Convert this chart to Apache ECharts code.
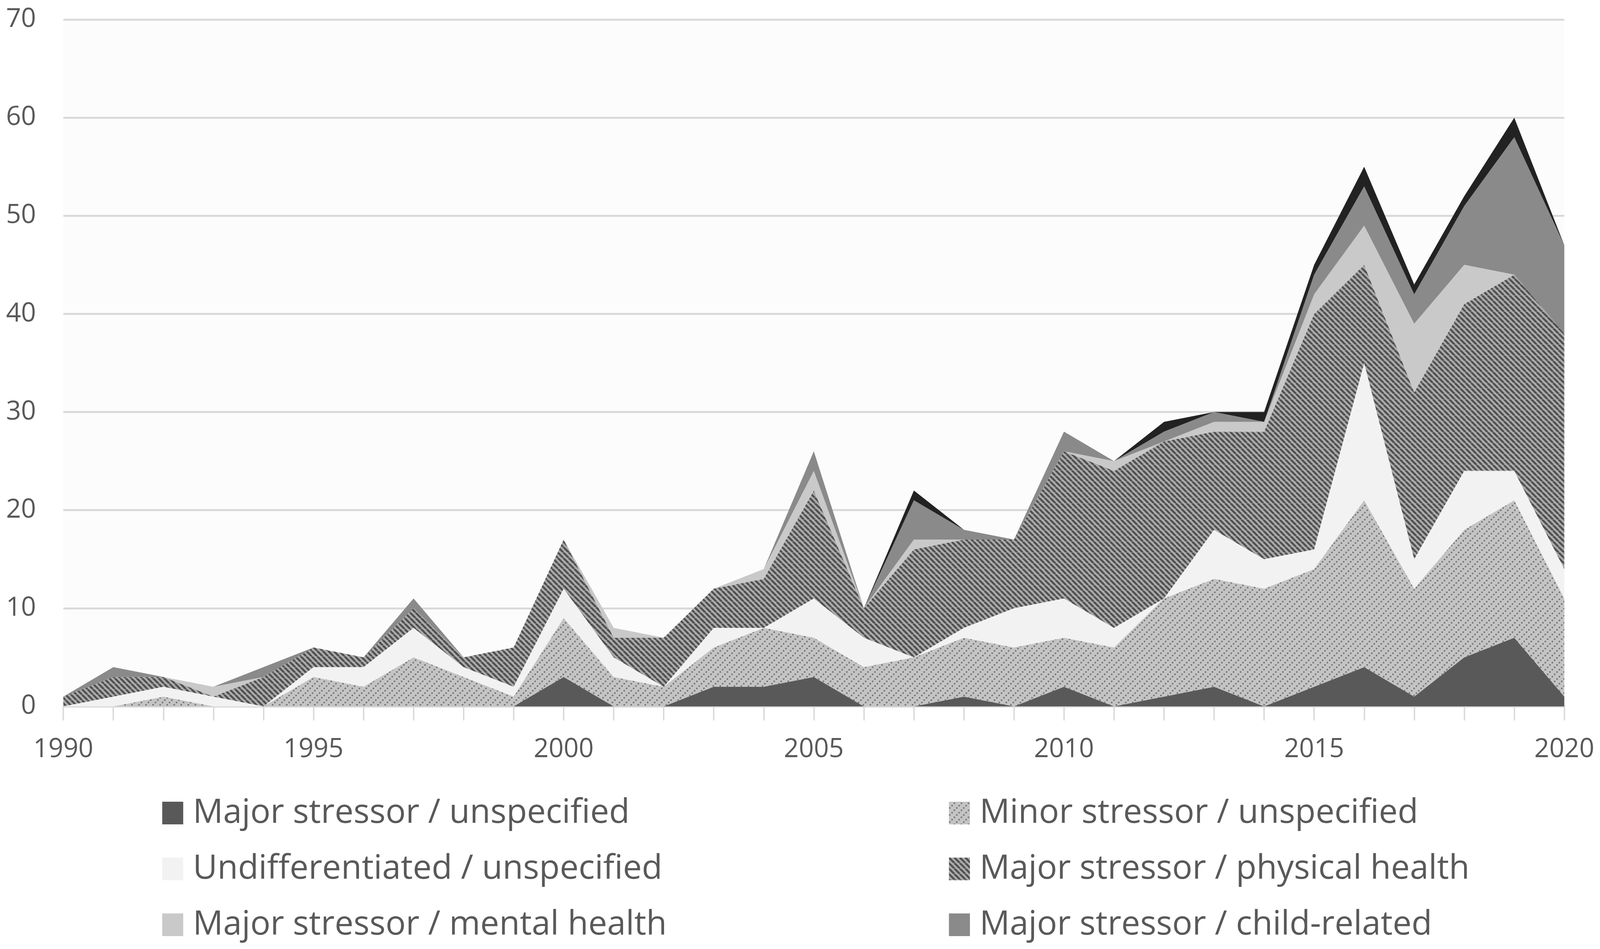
<!DOCTYPE html>
<html lang="en">
<head>
    <meta charset="UTF-8">
    <title>stressor types by year</title>
    <style>
        html,
        body {
            margin: 0;
            padding: 0;
            width: 100%;
            height: 100%;
            overflow: hidden;
            background: #ffffff;
        }

        #canvas {
            width: 100vw;
            height: 100vh;
        }
    </style>
</head>
<body>
<div id="canvas"></div>
</body>
<script src="https://cdn.jsdelivr.net/npm/echarts@6/dist/echarts.min.js"></script>
<script>

    const years = []
    for (let y = 1990; y <= 2020; y++) {
        years.push(String(y))
    }

    // values, 1990 .. 2020
    const majorUnspecified = [0, 0, 0, 0, 0, 0, 0, 0, 0, 0, 3, 0, 0, 2, 2, 3, 0, 0, 1, 0, 2, 0, 1, 2, 0, 2, 4, 1, 5, 7, 1]
    const minorUnspecified = [0, 0, 1, 0, 0, 3, 2, 5, 3, 1, 6, 3, 2, 4, 6, 4, 4, 5, 6, 6, 5, 6, 10, 11, 12, 12, 17, 11, 13, 14, 10]
    const undifferentiated = [0, 1, 1, 1, 0, 1, 2, 3, 1, 1, 3, 2, 0, 2, 0, 4, 3, 0, 1, 4, 4, 2, 0, 5, 3, 2, 14, 3, 6, 3, 3]
    const majorPhysical = [1, 2, 1, 0, 3, 2, 1, 2, 1, 4, 5, 2, 5, 4, 5, 11, 3, 11, 9, 7, 15, 16, 16, 10, 13, 24, 10, 17, 17, 20, 24]
    const majorMental = [0, 0, 0, 1, 0, 0, 0, 0, 0, 0, 0, 1, 0, 0, 1, 2, 0, 1, 0, 0, 0, 1, 0, 1, 1, 2, 4, 7, 4, 0, 0]
    const majorChild = [0, 1, 0, 0, 1, 0, 0, 1, 0, 0, 0, 0, 0, 0, 0, 2, 0, 4, 1, 0, 2, 0, 1, 1, 0, 2, 4, 3, 6, 14, 9]
    const other = [0, 0, 0, 0, 0, 0, 0, 0, 0, 0, 0, 0, 0, 0, 0, 0, 0, 1, 0, 0, 0, 0, 1, 0, 1, 1, 2, 1, 1, 2, 0]

    const legendLeft = ['Major stressor / unspecified', 'Undifferentiated / unspecified', 'Major stressor / mental health']
    const legendRight = ['Minor stressor / unspecified', 'Major stressor / physical health', 'Major stressor / child-related']

    // layout was measured on a 4572x2429 picture; map it onto the real window
    const sx = window.innerWidth / 4572
    const sy = window.innerHeight / 2429
    const px = (v) => v * sx
    const py = (v) => v * sy

    // dotted "/" lines on light grey
    function dotPattern() {
        const n = 18
        const c = document.createElement('canvas')
        c.width = n
        c.height = n
        const ctx = c.getContext('2d')
        ctx.fillStyle = '#c4c4c4'
        ctx.fillRect(0, 0, n, n)
        ctx.fillStyle = '#7a7a7a'
        for (let k = 0; k < n; k += 6) {
            ctx.fillRect(k, n - 4 - k < 0 ? n - 4 - k + n : n - 4 - k, 4, 4)
        }
        return { image: c, repeat: 'repeat' }
    }

    // dark "\" stripes
    function stripePattern() {
        const n = 14
        const c = document.createElement('canvas')
        c.width = n
        c.height = n
        const ctx = c.getContext('2d')
        ctx.fillStyle = '#ababab'
        ctx.fillRect(0, 0, n, n)
        ctx.strokeStyle = '#4f4f4f'
        ctx.lineWidth = 5
        for (let o = -n; o <= n; o += n) {
            ctx.beginPath()
            ctx.moveTo(o, 0)
            ctx.lineTo(o + n, n)
            ctx.stroke()
        }
        return { image: c, repeat: 'repeat' }
    }

    function area(name, data, color) {
        return {
            name: name,
            type: 'line',
            stack: 'total',
            data: data,
            showSymbol: false,
            symbol: 'none',
            lineStyle: { width: 0 },
            areaStyle: { color: color, opacity: 1 },
            itemStyle: { color: color },
            emphasis: { disabled: true }
        }
    }

    const legendFont = px(96)
    const legendText = {
        fontFamily: 'Open Sans',
        fontSize: legendFont,
        lineHeight: legendFont,
        color: '#595959',
        padding: [0, 0, 0, px(22)]
    }

    function legendColumn(items, left) {
        return {
            data: items,
            orient: 'vertical',
            left: px(left),
            top: py(2076) - legendFont / 2,
            height: py(420),
            itemWidth: px(60),
            itemHeight: py(58),
            itemGap: py(143) - legendFont,
            icon: 'rect',
            textStyle: legendText,
            selectedMode: false
        }
    }

    const axisFont = px(75)

    const myChart = echarts.init(document.getElementById('canvas'))

    myChart.setOption({
        animation: false,
        backgroundColor: '#ffffff',
        grid: {
            left: px(181),
            right: px(102),
            top: py(50),
            bottom: py(621),
            show: true,
            backgroundColor: '#fcfcfc',
            borderWidth: 0
        },
        legend: [
            legendColumn(legendLeft, 458),
            legendColumn(legendRight, 2706)
        ],
        xAxis: {
            type: 'category',
            data: years,
            boundaryGap: false,
            axisLine: { lineStyle: { color: '#d9d9d9', width: py(5) } },
            axisTick: {
                show: true,
                interval: 0,
                length: py(36),
                lineStyle: { color: '#d9d9d9', width: px(4) }
            },
            axisLabel: {
                interval: (i) => i % 5 === 0,
                margin: py(111) - axisFont / 2,
                fontFamily: 'Open Sans',
                fontSize: axisFont,
                color: '#595959'
            }
        },
        yAxis: {
            type: 'value',
            min: 0,
            max: 70,
            interval: 10,
            axisLine: { show: false },
            axisTick: { show: false },
            splitLine: { lineStyle: { color: '#d9d9d9', width: py(5) } },
            axisLabel: {
                margin: px(78),
                fontFamily: 'Open Sans',
                fontSize: axisFont,
                color: '#595959'
            }
        },
        series: [
            area('Major stressor / unspecified', majorUnspecified, '#595959'),
            area('Minor stressor / unspecified', minorUnspecified, dotPattern()),
            area('Undifferentiated / unspecified', undifferentiated, '#f2f2f2'),
            area('Major stressor / physical health', majorPhysical, stripePattern()),
            area('Major stressor / mental health', majorMental, '#c9c9c9'),
            area('Major stressor / child-related', majorChild, '#8a8a8a'),
            area('Other', other, '#222222')
        ]
    })
</script>
</html>
